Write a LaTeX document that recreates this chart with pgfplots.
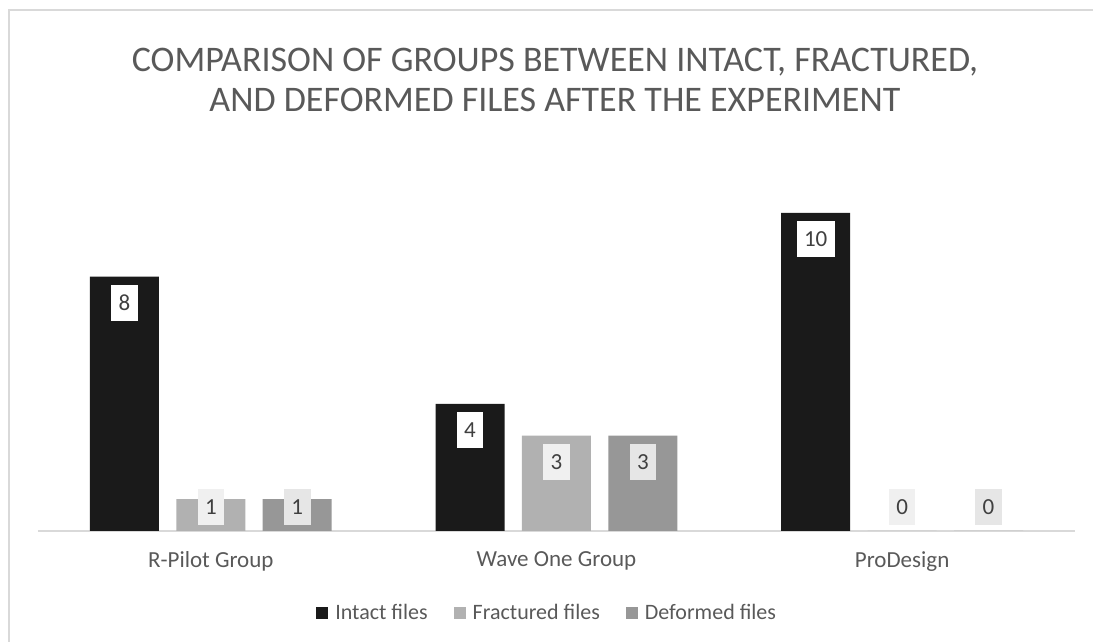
\documentclass[border=0pt]{standalone}
\usepackage{fontspec}
\setmainfont{Carlito}
\usepackage{pgfplots}
\usepackage{pgfplotstable}
\pgfplotsset{compat=1.18}
\definecolor{cIntact}{HTML}{1A1A1A}
\definecolor{cFrac}{HTML}{B1B1B1}
\definecolor{cDef}{HTML}{979797}
\definecolor{txt}{HTML}{595959}
\definecolor{lbl}{HTML}{404040}
\definecolor{frame}{HTML}{D9D9D9}
\definecolor{boxF}{HTML}{F0F0F0}
\definecolor{boxD}{HTML}{E6E6E6}
\pgfplotstableread{
x v
-0.25 8
0.75 4
1.75 10
}\intact
\pgfplotstableread{
x v
0 1
1 3
2 0
}\fractured
\pgfplotstableread{
x v
0.25 1
1.25 3
2.25 0
}\deformed
\pgfplotsset{
  lblstyle/.style={forget plot, draw=none, mark=none, nodes near coords, point meta=explicit symbolic,
    every node near coord/.style={fill=#1, text=lbl, inner xsep=7.5pt, inner ysep=0pt,
      minimum height=36pt, font=\fontsize{23}{24}\selectfont, anchor=center},
    nodes near coords={\pgfplotspointmeta}},
}
\begin{document}
\begin{tikzpicture}[x=1pt,y=1pt]
\path[use as bounding box] (0,0) rectangle (1093,642);
\draw[frame, line width=2pt] (9,0) -- (9,632) -- (1093,632);
\node[txt, align=center, font=\fontsize{36}{40}\selectfont] at (555,562)
  {COMPARISON OF GROUPS BETWEEN INTACT, FRACTURED,\\AND DEFORMED FILES AFTER THE EXPERIMENT};
\begin{axis}[
  at={(38pt,111pt)}, anchor=south west,
  scale only axis, width=1037pt, height=381.6pt,
  xmin=-0.5, xmax=2.5, ymin=0, ymax=12,
  axis x line=bottom, axis y line=none,
  axis line style={-, draw=frame, line width=1.5pt},
  xtick={0,1,2}, xticklabels={R-Pilot Group, Wave One Group, ProDesign},
  major tick length=0pt,
  xticklabel style={font=\fontsize{23}{24}\selectfont, text=txt, yshift=-17pt},
  legend columns=3,
  legend style={at={(0.491,-0.215)}, anchor=center, draw=none, fill=none,
    font=\fontsize{22}{24}\selectfont, text=txt,
    /tikz/every odd column/.append style={column sep=5pt},
    /tikz/every even column/.append style={column sep=24pt}},
  legend image code/.code={\fill (0pt,-6pt) rectangle (12pt,6pt);},
  clip=false,
]
\addplot[ybar, bar width=69pt, bar shift=0pt, fill=cIntact, draw=none] table[x=x,y=v] {\intact};
\addlegendentry{Intact files}
\addplot[ybar, bar width=69pt, bar shift=0pt, fill=cFrac, draw=none] table[x=x,y=v] {\fractured};
\addlegendentry{Fractured files}
\addplot[ybar, bar width=69pt, bar shift=0pt, fill=cDef, draw=none] table[x=x,y=v] {\deformed};
\addlegendentry{Deformed files}
% data labels
\addplot[lblstyle=white] table[x=x, y expr={max(\thisrow{v}-0.82,0.755)}, meta=v] {\intact};
\addplot[lblstyle=boxF] table[x=x, y expr={max(\thisrow{v}-0.82,0.755)}, meta=v] {\fractured};
\addplot[lblstyle=boxD] table[x=x, y expr={max(\thisrow{v}-0.82,0.755)}, meta=v] {\deformed};
\end{axis}
\end{tikzpicture}
\end{document}
